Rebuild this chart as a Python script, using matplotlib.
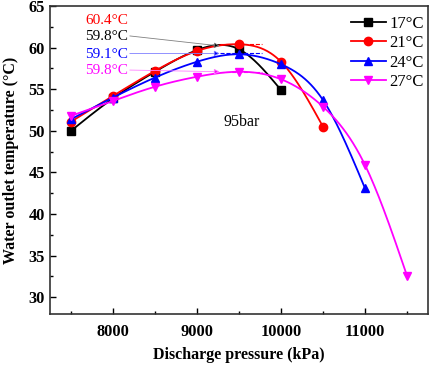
import numpy as np
import matplotlib.pyplot as plt
from matplotlib.lines import Line2D
from matplotlib.ticker import MultipleLocator

plt.rcParams['font.family'] = ['Liberation Serif', 'DejaVu Serif']
plt.rcParams['mathtext.fontset'] = 'stix'

# discharge pressure (kPa) and water outlet temperature (C) per inlet water temperature
p_17 = [7500, 8000, 8500, 9000, 9500, 10000]
t_17 = [50.0, 53.9, 57.1, 59.7, 59.8, 54.9]
p_21 = [7500, 8000, 8500, 9000, 9500, 10000, 10500]
t_21 = [51.1, 54.2, 57.2, 59.6, 60.4, 58.3, 50.5]
p_24 = [7500, 8000, 8500, 9000, 9500, 10000, 10500, 11000]
t_24 = [51.4, 54.0, 56.4, 58.3, 59.2, 58.0, 53.7, 43.1]
p_27 = [7500, 8000, 8500, 9000, 9500, 10000, 10500, 11000, 11500]
t_27 = [51.8, 53.6, 55.3, 56.5, 57.1, 56.2, 52.9, 45.9, 32.6]

labels = ['17\u00b0C', '21\u00b0C', '24\u00b0C', '27\u00b0C']
colors = ['black', 'red', 'blue', 'magenta']
markers = ['s', 'o', '^', 'v']

# peak annotations
peak_text = ['59.8\u00b0C', '60.4\u00b0C', '59.1\u00b0C', '59.8\u00b0C']
peak_val = [60.2, 60.4, 59.3, 57.1]


def natural_spline(x, y, n=300):
    """Smooth curve through the points (natural cubic spline)."""
    x = np.asarray(x, float)
    y = np.asarray(y, float)
    h = np.diff(x)
    m = len(x)
    A = np.zeros((m, m))
    b = np.zeros(m)
    A[0, 0] = A[-1, -1] = 1.0
    for i in range(1, m - 1):
        A[i, i - 1] = h[i - 1]
        A[i, i] = 2 * (h[i - 1] + h[i])
        A[i, i + 1] = h[i]
        b[i] = 3 * ((y[i + 1] - y[i]) / h[i] - (y[i] - y[i - 1]) / h[i - 1])
    c = np.linalg.solve(A, b)
    bb = (y[1:] - y[:-1]) / h - h * (2 * c[:-1] + c[1:]) / 3
    d = (c[1:] - c[:-1]) / (3 * h)
    xs = np.linspace(x[0], x[-1], n)
    k = np.clip(np.searchsorted(x, xs) - 1, 0, m - 2)
    dx = xs - x[k]
    ys = y[k] + bb[k] * dx + c[k] * dx ** 2 + d[k] * dx ** 3
    return xs, ys


fig = plt.figure(figsize=(4.29, 3.65), dpi=100)
ax = fig.add_axes([0.1166, 0.14, 0.881, 0.8436])

series = [(p_17, t_17), (p_21, t_21), (p_24, t_24), (p_27, t_27)]
for (px, ty), c, mk in zip(series, colors, markers):
    xs, ys = natural_spline(px, ty)
    ax.plot(xs, ys, color=c, lw=1.3)
    ax.plot(px, ty, ls='none', marker=mk, color=c, ms=6)

# text + arrows for the maxima
txt_x = 8180
txt_y = [61.3, 63.2, 59.2, 57.2]
arrow_col = ['gray', None, '#8080ff', '#ff80ff']
for i in range(4):
    ax.text(txt_x, txt_y[i], peak_text[i], color=colors[i], fontsize=11,
            ha='right', va='center')
    if arrow_col[i] is not None:
        ax.annotate('', xy=(9270, peak_val[i]), xytext=(txt_x + 20, txt_y[i] + 0.1),
                    arrowprops=dict(arrowstyle='-|>', ec=arrow_col[i], fc=colors[i],
                                    lw=0.6, mutation_scale=8, shrinkA=0, shrinkB=0))
    if i > 0:
        ax.plot([9270, 9770], [peak_val[i], peak_val[i]], ls='--', color=colors[i], lw=0.8)

ax.text(9536, 51.1, '95bar', fontsize=11.5, ha='center', va='center')

ax.set_xlim(7250, 11750)
ax.set_ylim(28, 65)
ax.xaxis.set_minor_locator(MultipleLocator(500))
ax.yaxis.set_minor_locator(MultipleLocator(2.5))
ax.set_xticks([8000, 9000, 10000, 11000])
ax.set_yticks([30, 35, 40, 45, 50, 55, 60, 65])
ax.tick_params(which='both', direction='in', labelsize=11.8)
ax.tick_params(which='major', length=4, width=1)
ax.tick_params(which='minor', length=2.5, width=1)
ax.tick_params(axis='x', pad=7)
for lab in ax.get_xticklabels() + ax.get_yticklabels():
    lab.set_fontweight('bold')
for s in ax.spines.values():
    s.set_linewidth(1.2)
    s.set_color('#333333')

ax.set_xlabel('Discharge pressure (kPa)', fontsize=11.5, fontweight='bold', labelpad=5)
ax.set_ylabel('Water outlet temperature (\u00b0C)', fontsize=11.5, fontweight='bold')
ax.yaxis.set_label_coords(-0.082, 0.5)

handles = [Line2D([], [], color=c, marker=mk, ms=6, lw=1.3) for c, mk in zip(colors, markers)]
ax.legend(handles, labels, loc='upper right', frameon=False, fontsize=12,
          handlelength=2.1, handletextpad=0.2, labelspacing=0.2,
          borderaxespad=0.2, bbox_to_anchor=(1.015, 1.0))

fig.savefig('out.png', dpi=100)
